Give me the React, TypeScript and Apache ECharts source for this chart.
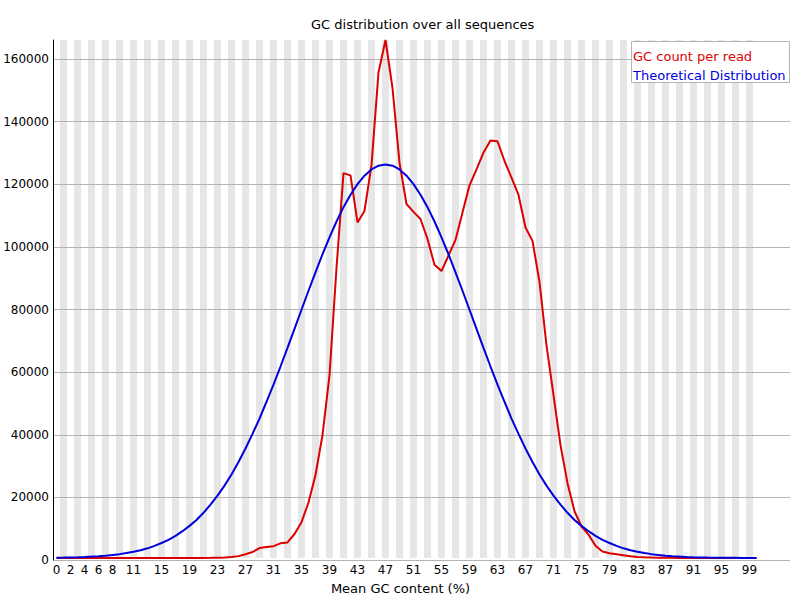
import React, { useEffect, useRef } from "react";
import * as echarts from "echarts";

// Mean GC content categories (%)
const gcPercent: string[] = Array.from({ length: 101 }, (_, i) => String(i));

// x tick labels shown on the axis
const xTickLabels: string[] = [
  "0", "2", "4", "6", "8", "11", "15", "19", "23", "27", "31", "35", "39", "43",
  "47", "51", "55", "59", "63", "67", "71", "75", "79", "83", "87", "91", "95", "99",
];

// GC count per read (red)
const gcCount: number[] = [
  0, 0, 0, 0, 0, 0, 0, 0, 0, 0,
  0, 0, 0, 0, 0, 0, 5, 10, 15, 20,
  30, 40, 60, 90, 150, 300, 600, 1200, 1900, 3200,
  3500, 3800, 4700, 5000, 7700, 11500, 17800, 26600, 39400, 58600,
  93000, 123400, 122700, 107600, 111300, 126000, 155700, 166100, 150700, 126800,
  113500, 111000, 108700, 102300, 94000, 92000, 97000, 102000, 110800, 119500,
  124600, 130000, 133900, 133600, 127300, 122000, 116400, 106000, 101700, 88500,
  68200, 52200, 36200, 24000, 15000, 10100, 7500, 3900, 2100, 1500,
  1200, 850, 530, 320, 220, 150, 100, 70, 50, 30,
  20, 15, 10, 8, 5, 4, 3, 2, 1, 1,
  0,
];

// Theoretical distribution (blue)
const theoretical: number[] = [
  107, 145, 190, 260, 340, 450, 580, 750, 970, 1240,
  1580, 2000, 2500, 3100, 3900, 4800, 5800, 7100, 8600, 10300,
  12200, 14500, 17100, 20000, 23200, 26800, 30800, 35100, 39800, 44700,
  50100, 55600, 61400, 67400, 73500, 79600, 85700, 91600, 97400, 102800,
  107900, 112500, 116500, 119900, 122600, 124600, 125800, 126200, 125800, 124600,
  122600, 119900, 116500, 112500, 107900, 102800, 97400, 91600, 85700, 79600,
  73500, 67400, 61400, 55600, 50100, 44700, 39800, 35100, 30800, 26800,
  23200, 20000, 17100, 14500, 12200, 10300, 8600, 7100, 5800, 4800,
  3900, 3100, 2500, 2000, 1580, 1240, 970, 750, 580, 450,
  340, 260, 190, 145, 107, 80, 58, 42, 31, 22,
  16,
];

const seriesNames = ["GC count per read", "Theoretical Distribution"];
const seriesColors = ["#dc0000", "#0000dc"];

const FONT = "DejaVu Sans";

export default function App() {
  const ref = useRef<HTMLDivElement>(null);

  useEffect(() => {
    if (!ref.current) return;
    const chart = echarts.init(ref.current, undefined, { renderer: "svg" });
    const yMax = Math.max(...gcCount, ...theoretical);
    const tickSet = new Set(xTickLabels);

    chart.setOption({
      animation: false,
      backgroundColor: "#ffffff",
      title: {
        text: "GC distribution over all sequences",
        left: 311,
        top: 18,
        padding: 0,
        textStyle: { fontSize: 13, fontWeight: "normal", fontFamily: FONT, color: "#000" },
      },
      grid: [
        { left: 53, right: 40, top: 40, bottom: 40 },
        { left: 53, right: 10, top: 40, bottom: 40 },
      ],
      xAxis: [
        {
          type: "category",
          gridIndex: 0,
          data: gcPercent,
          boundaryGap: true,
          z: 0,
          axisLine: { show: false },
          axisTick: { show: false },
          axisLabel: {
            interval: (_idx: number, val: string) => tickSet.has(val),
            fontSize: 12,
            fontFamily: FONT,
            color: "#000",
            margin: 6,
          },
          splitLine: { show: false },
          splitArea: {
            show: true,
            interval: 0,
            areaStyle: { color: ["#ffffff", "#e6e6e6"] },
          },
          name: "Mean GC content (%)",
          nameLocation: "middle",
          nameGap: 24,
          nameTextStyle: {
            fontSize: 13,
            fontFamily: FONT,
            color: "#000",
            padding: [0, 12, 0, 0],
          },
        },
        {
          type: "value",
          gridIndex: 1,
          min: 0,
          max: 1,
          show: false,
        },
      ],
      yAxis: [
        {
          type: "value",
          gridIndex: 0,
          min: 0,
          max: yMax,
          show: false,
          splitLine: { show: false },
        },
        {
          type: "value",
          gridIndex: 1,
          min: 0,
          max: yMax,
          interval: 20000,
          z: 1,
          axisLine: { show: true, lineStyle: { color: "#000", width: 1 } },
          axisTick: { show: false },
          axisLabel: {
            fontSize: 12,
            fontFamily: FONT,
            color: "#000",
            margin: 4,
            showMaxLabel: false,
            formatter: (v: number) => String(Math.round(v)),
          },
          splitLine: {
            show: true,
            showMaxLine: false,
            lineStyle: { color: "#b4b4b4", width: 1 },
          },
        },
      ],
      series: [
        {
          name: seriesNames[0],
          type: "line",
          xAxisIndex: 0,
          yAxisIndex: 0,
          data: gcCount,
          symbol: "none",
          lineStyle: { color: seriesColors[0], width: 2 },
          itemStyle: { color: seriesColors[0] },
          z: 2,
        },
        {
          name: seriesNames[1],
          type: "line",
          xAxisIndex: 0,
          yAxisIndex: 0,
          data: theoretical,
          symbol: "none",
          lineStyle: { color: seriesColors[1], width: 2 },
          itemStyle: { color: seriesColors[1] },
          z: 3,
        },
      ],
      graphic: [
        {
          type: "rect",
          z: 100,
          shape: { x: 631.5, y: 41.5, width: 158, height: 41 },
          style: { fill: "#ffffff", stroke: "#b4b4b4", lineWidth: 1 },
        },
        {
          type: "text",
          z: 101,
          x: 633,
          y: 56,
          style: {
            text: seriesNames[0],
            fill: seriesColors[0],
            fontSize: 13,
            fontFamily: FONT,
            verticalAlign: "middle",
            align: "left",
          },
        },
        {
          type: "text",
          z: 101,
          x: 633,
          y: 75.5,
          style: {
            text: seriesNames[1],
            fill: seriesColors[1],
            fontSize: 13,
            fontFamily: FONT,
            verticalAlign: "middle",
            align: "left",
          },
        },
      ],
    });

    return () => {
      chart.dispose();
    };
  }, []);

  return (
    <div
      ref={ref}
      style={{ position: "absolute", left: 0, top: 0, width: 800, height: 600 }}
    />
  );
}
